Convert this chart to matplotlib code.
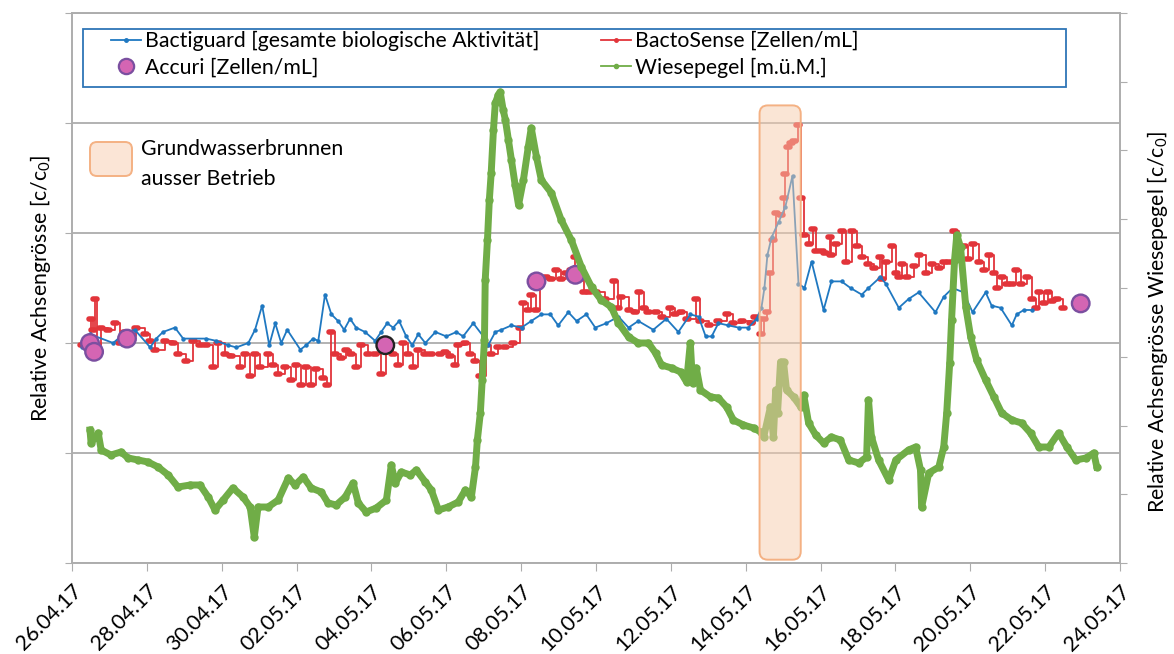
import numpy as np
import pandas as pd
import matplotlib
matplotlib.use('Agg')
import matplotlib.pyplot as plt
import matplotlib.dates as mdates
from matplotlib.patches import FancyBboxPatch, Rectangle
from matplotlib.markers import MarkerStyle
from matplotlib.lines import Line2D

plt.rcParams['font.family'] = ['Lato', 'DejaVu Sans']
plt.rcParams['mathtext.default'] = 'regular'

# time in days since 26.04.2017 00:00
start = pd.Timestamp('2017-04-26')

# Bactiguard [gesamte biologische Aktivitaet], left axis (c/c0)
bg_days = [0.27, 0.48, 1.10, 1.44, 1.68, 2.09, 2.25, 2.43, 2.75, 2.97,
           3.58, 3.85, 4.17, 4.39, 4.71, 4.89, 5.08, 5.27, 5.43, 5.59,
           5.75, 6.10, 6.26, 6.44, 6.58, 6.76, 6.93, 7.11, 7.27, 7.43,
           7.59, 7.83, 8.10, 8.26, 8.42, 8.58, 8.74, 8.93, 9.09, 9.25,
           9.44, 9.71, 10.00, 10.27, 10.45, 10.72, 10.99, 11.12, 11.31, 11.47,
           11.74, 12.01, 12.27, 12.54, 12.78, 12.99, 13.26, 13.48, 13.74, 13.98,
           14.28, 14.60, 14.87, 15.13, 15.53, 15.88, 16.20, 16.52, 16.74, 16.93,
           17.09, 17.27, 17.54, 17.81, 18.07, 18.29, 18.42, 18.50, 18.58, 18.69,
           18.88, 19.06, 19.25, 19.41, 19.57, 19.76, 20.08, 20.29, 20.56, 20.80,
           21.10, 21.28, 21.60, 21.74, 22.09, 22.35, 22.62, 23.07, 23.29, 23.53,
           23.82, 24.06, 24.41, 24.57, 24.81, 25.11, 25.24, 25.43, 25.64]
bg_vals = [0.98, 1.04, 1.00, 1.05, 1.06, 0.98, 1.02, 1.05, 1.07, 1.02,
           1.02, 1.01, 0.99, 0.98, 1.00, 1.06, 1.17, 0.99, 1.09, 1.00,
           1.06, 0.97, 0.99, 1.02, 1.01, 1.22, 1.13, 1.10, 1.06, 1.11,
           1.07, 1.05, 1.01, 1.05, 1.09, 1.07, 1.10, 1.03, 0.99, 1.04,
           1.00, 1.05, 1.03, 1.05, 1.03, 1.09, 1.03, 0.99, 1.05, 1.06,
           1.08, 1.07, 1.10, 1.13, 1.13, 1.08, 1.14, 1.10, 1.13, 1.07,
           1.09, 1.12, 1.07, 1.10, 1.06, 1.11, 1.05, 1.13, 1.12, 1.03,
           1.03, 1.09, 1.08, 1.07, 1.07, 1.11, 1.16, 1.25, 1.40, 1.48,
           1.55, 1.62, 1.76, 1.27, 1.25, 1.37, 1.15, 1.28, 1.28, 1.25,
           1.22, 1.25, 1.30, 1.27, 1.16, 1.20, 1.23, 1.14, 1.21, 1.25,
           1.23, 1.14, 1.23, 1.17, 1.16, 1.08, 1.13, 1.15, 1.15]

# BactoSense [Zellen/mL], left axis
bs_days = [0.27, 0.43, 0.51, 0.56, 0.61, 0.67, 0.78, 0.96, 1.15, 1.28,
           1.42, 1.55, 1.71, 1.95, 2.09, 2.22, 2.49, 2.70, 2.83, 3.05,
           3.24, 3.42, 3.58, 3.77, 3.90, 4.09, 4.25, 4.49, 4.63, 4.76,
           4.89, 5.03, 5.24, 5.37, 5.51, 5.70, 5.86, 5.99, 6.12, 6.26,
           6.39, 6.52, 6.71, 6.82, 6.93, 7.03, 7.19, 7.33, 7.46, 7.59,
           7.73, 7.91, 8.10, 8.26, 8.40, 8.58, 8.72, 8.85, 8.98, 9.12,
           9.25, 9.44, 9.60, 9.84, 9.97, 10.11, 10.24, 10.32, 10.51, 10.64,
           10.78, 10.91, 11.07, 11.20, 11.39, 11.58, 11.79, 11.98, 12.06, 12.19,
           12.27, 12.41, 12.51, 12.67, 12.81, 12.94, 13.07, 13.21, 13.34, 13.45,
           13.58, 13.69, 13.80, 14.01, 14.25, 14.47, 14.60, 14.68, 14.87, 15.05,
           15.16, 15.27, 15.40, 15.59, 15.75, 15.99, 16.12, 16.26, 16.42, 16.66,
           16.79, 17.01, 17.27, 17.49, 17.67, 17.89, 18.13, 18.26, 18.40, 18.48,
           18.58, 18.66, 18.74, 18.80, 18.93, 19.01, 19.06, 19.14, 19.22, 19.30,
           19.39, 19.49, 19.57, 19.68, 19.81, 19.89, 20.05, 20.13, 20.24, 20.29,
           20.40, 20.56, 20.67, 20.83, 20.96, 21.10, 21.28, 21.42, 21.58, 21.63,
           21.76, 21.90, 22.01, 22.09, 22.17, 22.30, 22.49, 22.62, 22.81, 22.97,
           23.16, 23.29, 23.42, 23.56, 23.69, 23.82, 23.93, 24.06, 24.22, 24.36,
           24.49, 24.63, 24.71, 24.84, 24.97, 25.11, 25.21, 25.35, 25.51, 25.64,
           25.75, 25.83, 25.96, 26.07, 26.18, 26.31, 26.47]
bs_vals = [0.99, 1.02, 1.11, 1.06, 1.20, 0.99, 1.07, 1.06, 1.09, 1.00,
           1.05, 1.03, 1.07, 1.04, 1.01, 0.97, 1.01, 1.00, 0.95, 0.92,
           1.01, 0.99, 0.99, 0.89, 1.00, 0.95, 0.94, 0.89, 0.95, 0.85,
           0.95, 0.89, 0.95, 0.90, 0.86, 0.89, 0.83, 0.90, 0.81, 0.89,
           0.81, 0.88, 0.84, 0.81, 1.05, 0.95, 0.93, 0.97, 0.95, 0.89,
           0.99, 0.95, 0.95, 0.86, 0.98, 0.95, 0.90, 1.00, 0.95, 0.89,
           0.97, 0.95, 0.95, 0.95, 0.96, 0.94, 0.90, 0.99, 1.00, 0.95,
           0.92, 0.85, 0.99, 0.95, 0.98, 0.98, 1.00, 1.07, 1.18, 1.15,
           1.22, 1.15, 1.29, 1.30, 1.29, 1.33, 1.29, 1.32, 1.33, 1.39,
           1.29, 1.23, 1.23, 1.23, 1.20, 1.28, 1.16, 1.21, 1.15, 1.14,
           1.23, 1.16, 1.14, 1.14, 1.12, 1.16, 1.13, 1.14, 1.11, 1.20,
           1.10, 1.08, 1.10, 1.13, 1.09, 1.10, 1.09, 1.12, 1.04, 1.11,
           1.14, 1.32, 1.47, 1.59, 1.58, 1.66, 1.77, 1.89, 1.91, 1.92,
           1.99, 1.66, 1.49, 1.45, 1.52, 1.42, 1.42, 1.41, 1.48, 1.40,
           1.45, 1.51, 1.37, 1.51, 1.44, 1.39, 1.36, 1.34, 1.39, 1.29,
           1.37, 1.44, 1.32, 1.30, 1.36, 1.30, 1.35, 1.40, 1.32, 1.36,
           1.34, 1.37, 1.37, 1.51, 1.44, 1.44, 1.38, 1.45, 1.37, 1.33,
           1.40, 1.32, 1.25, 1.30, 1.27, 1.27, 1.33, 1.27, 1.30, 1.20,
           1.16, 1.23, 1.18, 1.23, 1.19, 1.20, 1.16]

# Accuri [Zellen/mL], left axis
ac_days = [0.48, 0.59, 1.47, 8.37, 12.41, 13.45, 26.95]
ac_vals = [1.00, 0.96, 1.02, 0.99, 1.28, 1.31, 1.18]

# Wiesepegel [m.ü.M.], right axis (c/c0)
wp_days = [0.48, 0.51, 0.70, 0.78, 1.04, 1.31, 1.50, 1.76, 2.03, 2.30,
           2.57, 2.83, 3.16, 3.42, 3.64, 3.82, 4.04, 4.30, 4.57, 4.76,
           4.87, 4.97, 5.24, 5.51, 5.78, 5.96, 6.18, 6.39, 6.66, 6.84,
           7.06, 7.30, 7.51, 7.65, 7.86, 8.13, 8.40, 8.53, 8.64, 8.80,
           9.04, 9.20, 9.44, 9.60, 9.79, 10.05, 10.32, 10.51, 10.67, 10.78,
           10.83, 10.91, 10.96, 11.02, 11.04, 11.10, 11.15, 11.20, 11.26, 11.31,
           11.39, 11.44, 11.52, 11.58, 11.66, 11.74, 11.84, 11.93, 12.06, 12.19,
           12.27, 12.41, 12.54, 12.81, 13.07, 13.34, 13.61, 13.88, 14.14, 14.41,
           14.60, 14.87, 15.13, 15.40, 15.59, 15.75, 16.02, 16.26, 16.42, 16.52,
           16.58, 16.68, 16.79, 17.06, 17.27, 17.49, 17.67, 17.94, 18.21, 18.40,
           18.48, 18.66, 18.74, 18.80, 18.85, 18.93, 19.01, 19.09, 19.28, 19.47,
           19.55, 19.68, 19.87, 20.08, 20.29, 20.53, 20.75, 21.02, 21.23, 21.28,
           21.36, 21.55, 21.82, 22.01, 22.35, 22.54, 22.67, 22.70, 22.89, 23.16,
           23.29, 23.37, 23.45, 23.50, 23.58, 23.64, 23.74, 23.88, 24.01, 24.17,
           24.41, 24.63, 24.84, 25.11, 25.37, 25.61, 25.83, 26.10, 26.36, 26.58,
           26.82, 27.09, 27.30, 27.38]
wp_vals = [1.00010, 0.99997, 1.00007, 0.99990, 0.99985, 0.99988, 0.99982, 0.99980, 0.99978, 0.99973,
           0.99965, 0.99953, 0.99955, 0.99955, 0.99943, 0.99930, 0.99940, 0.99952, 0.99943, 0.99933,
           0.99903, 0.99933, 0.99933, 0.99940, 0.99962, 0.99955, 0.99963, 0.99952, 0.99948, 0.99937,
           0.99935, 0.99943, 0.99957, 0.99937, 0.99928, 0.99932, 0.99940, 0.99975, 0.99957, 0.99968,
           0.99965, 0.99970, 0.99958, 0.99950, 0.99930, 0.99933, 0.99938, 0.99950, 0.99943, 0.99973,
           1.00000, 1.00027, 1.00060, 1.00100, 1.00160, 1.00200, 1.00240, 1.00267, 1.00310, 1.00337,
           1.00345, 1.00348, 1.00330, 1.00320, 1.00300, 1.00280, 1.00255, 1.00235, 1.00260, 1.00293,
           1.00312, 1.00283, 1.00260, 1.00247, 1.00220, 1.00200, 1.00173, 1.00153, 1.00140, 1.00133,
           1.00117, 1.00103, 1.00097, 1.00097, 1.00087, 1.00075, 1.00072, 1.00068, 1.00058, 1.00097,
           1.00057, 1.00072, 1.00050, 1.00043, 1.00042, 1.00033, 1.00020, 1.00015, 1.00012, 1.00008,
           1.00003, 1.00033, 1.00003, 1.00050, 1.00027, 1.00078, 1.00078, 1.00050, 1.00043, 1.00033,
           1.00045, 1.00017, 1.00005, 0.99997, 1.00003, 1.00000, 0.99980, 0.99977, 0.99983, 1.00040,
           1.00003, 0.99980, 0.99960, 0.99980, 0.99990, 0.99993, 0.99970, 0.99933, 0.99967, 0.99973,
           0.99993, 1.00027, 1.00077, 1.00120, 1.00180, 1.00205, 1.00193, 1.00133, 1.00103, 1.00080,
           1.00060, 1.00043, 1.00027, 1.00020, 1.00017, 1.00007, 0.99993, 0.99993, 1.00007, 0.99993,
           0.99980, 0.99982, 0.99987, 0.99973]

# well out of service (days), shaded span
outage = (18.37, 19.47)

tick_dates = pd.date_range('2017-04-26', '2017-05-24', freq='2D')

blue = '#1F78C1'
red = '#E2343A'
green = '#70AD47'
pink = '#D465B3'
purple = '#7B4FA0'
grey = '#ADADAD'
fs = 15.3


def days(d):
    return start + pd.to_timedelta(np.array(d), unit='D')


W, H = 1174, 654
fig = plt.figure(figsize=(W / 100, H / 100), dpi=100)
ax = fig.add_axes([72 / W, 1 - 563 / H, (1120 - 72) / W, (563 - 13) / H])
ax2 = ax.twinx()

# left axis series
ax.plot(days(bg_days), bg_vals, color=blue, lw=1.3, marker='o', ms=2.2, zorder=3)
pill = MarkerStyle('_', capstyle='round')
ax.plot(days(bs_days), bs_vals, color=red, lw=1.3, drawstyle='steps-post',
        marker=pill, ms=3, mew=4, zorder=2)
edges = [purple, purple, purple, '#222222', purple, purple, purple]
ax.scatter(days(ac_days), ac_vals, s=160, c=pink, edgecolors=edges, linewidths=1.7, zorder=4)

ax.set_ylim(0, 2.5)
ax.set_yticks(np.arange(0, 2.51, 0.5))
ax.set_yticklabels([])
ax.grid(axis='y', color=grey, lw=1.3)
ax.set_axisbelow(True)

# right axis series
ax2.plot(days(wp_days), wp_vals, color=green, lw=5, marker='o', ms=5, zorder=3)
ax2.set_ylim(0.99877, 1.00427)
ax2.set_yticks(np.linspace(0.99877, 1.00427, 9))
ax2.set_yticklabels([])

ax.set_xlim(start, pd.Timestamp('2017-05-24'))
ax.set_xticks(tick_dates)
ax.xaxis.set_major_formatter(mdates.DateFormatter('%d.%m.%y'))
plt.setp(ax.get_xticklabels(), rotation=45, ha='right', rotation_mode='anchor', fontsize=fs)
ax.tick_params(axis='x', length=6, color=grey, pad=7)
ax.tick_params(axis='y', length=5, color=grey)
ax2.tick_params(axis='y', length=5, color=grey)
for a in (ax, ax2):
    for s in a.spines.values():
        s.set_color(grey)
        s.set_linewidth(1.2)

# shaded outage window on top of data
x0 = mdates.date2num(days(outage[0]))
x1 = mdates.date2num(days(outage[1]))
box = FancyBboxPatch((x0, 0.015), x1 - x0, 2.065,
                     boxstyle='round,pad=0,rounding_size=0.22', mutation_aspect=37.4 / 220,
                     facecolor=(0.97, 0.80, 0.68, 0.5), edgecolor='#F4B183', lw=1.4,
                     transform=ax.transData, zorder=10)
ax2.add_patch(box)

# key for the shaded window
key = FancyBboxPatch((0.90, (H - 176) / 100), 0.42, 0.34,
                     boxstyle='round,pad=0,rounding_size=0.07',
                     facecolor='#FBE5D6', edgecolor='#F4B183', lw=1.4,
                     transform=fig.dpi_scale_trans)
fig.add_artist(key)
fig.text(141 / W, 1 - 149 / H, 'Grundwasserbrunnen', fontsize=fs, va='center')
fig.text(141 / W, 1 - 179 / H, 'ausser Betrieb', fontsize=fs, va='center')

# legend frame and entries
frame = Rectangle((83 / W, 1 - 87 / H), (1066 - 83) / W, 58 / H, transform=fig.transFigure,
                  facecolor='white', edgecolor='#2E75B6', lw=1.3, zorder=5)
fig.add_artist(frame)
h_bg = Line2D([], [], color=blue, lw=1.3, marker='o', ms=2.5)
h_ac = Line2D([], [], ls='none', marker='o', ms=11, mfc=pink, mec=purple, mew=1.6)
h_bs = Line2D([], [], color=red, lw=1.3, marker='o', ms=2.5)
h_wp = Line2D([], [], color=green, lw=1.3, marker='o', ms=3)
leg_kw = dict(loc='upper left', frameon=False, fontsize=fs, handlelength=1.4,
              handletextpad=0.2, borderpad=0, borderaxespad=0, labelspacing=0.3)
l1 = fig.legend([h_bg, h_ac], ['Bactiguard [gesamte biologische Aktivität]', 'Accuri [Zellen/mL]'],
                bbox_to_anchor=(111 / W, 1 - 31 / H), **leg_kw)
l2 = fig.legend([h_bs, h_wp], ['BactoSense [Zellen/mL]', 'Wiesepegel [m.ü.M.]'],
                bbox_to_anchor=(601 / W, 1 - 31 / H), **leg_kw)
l1.set_zorder(6)
l2.set_zorder(6)

fig.text(41 / W, 1 - 288 / H, 'Relative Achsengrösse [c/c$_0$]', rotation=90,
         fontsize=fs, ha='center', va='center')
fig.text(1158 / W, 1 - 322 / H, 'Relative Achsengrösse Wiesepegel [c/c$_0$]', rotation=90,
         fontsize=fs, ha='center', va='center')

fig.savefig('out.png', dpi=100)
